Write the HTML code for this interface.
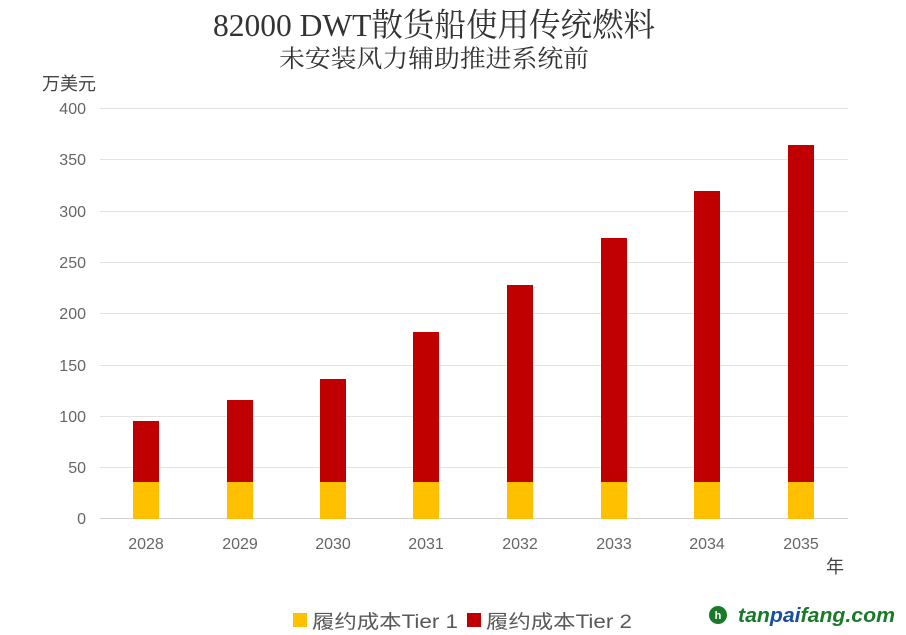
<!DOCTYPE html>
<html><head><meta charset="utf-8"><style>
body{margin:0;background:#fff;}
svg{display:block}
</style></head><body>
<svg width="906" height="635" xmlns="http://www.w3.org/2000/svg">
<rect width="906" height="635" fill="#fff"/>
<g transform="translate(434,36) scale(1,1.15)">
<text x="0" y="0" text-anchor="middle" font-family="'Liberation Serif','Noto Serif CJK SC',serif" font-size="28" fill="#333" textLength="442" lengthAdjust="spacingAndGlyphs">82000 DWT散货船使用传统燃料</text>
</g>
<g transform="translate(434,67) scale(1,1.12)">
<text x="0" y="0" text-anchor="middle" font-family="'Liberation Serif','Noto Serif CJK SC',serif" font-size="22" fill="#333" textLength="310" lengthAdjust="spacingAndGlyphs">未安装风力辅助推进系统前</text>
</g>
<text x="42" y="90" font-family="'Liberation Sans','Noto Sans CJK SC',sans-serif" font-size="18" fill="#444">万美元</text>
<g stroke="#e3e3e3" stroke-width="1">
<line x1="100" x2="848" y1="108.5" y2="108.5"/>
<line x1="100" x2="848" y1="159.5" y2="159.5"/>
<line x1="100" x2="848" y1="211.5" y2="211.5"/>
<line x1="100" x2="848" y1="262.5" y2="262.5"/>
<line x1="100" x2="848" y1="313.5" y2="313.5"/>
<line x1="100" x2="848" y1="365.5" y2="365.5"/>
<line x1="100" x2="848" y1="416.5" y2="416.5"/>
<line x1="100" x2="848" y1="467.5" y2="467.5"/>
</g>
<line x1="100" x2="848" y1="518.5" y2="518.5" stroke="#d0d0d0"/>
<g font-family="'Liberation Sans',sans-serif" font-size="16" fill="#666" text-anchor="end">
<text x="86" y="114">400</text><text x="86" y="165">350</text><text x="86" y="217">300</text><text x="86" y="268">250</text><text x="86" y="319">200</text><text x="86" y="371">150</text><text x="86" y="422">100</text><text x="86" y="473">50</text><text x="86" y="524">0</text>
</g>
<g>
<rect x="133" y="421" width="26" height="61" fill="#c00000"/><rect x="133" y="482" width="26" height="37" fill="#ffc000"/>
<rect x="227" y="400" width="26" height="82" fill="#c00000"/><rect x="227" y="482" width="26" height="37" fill="#ffc000"/>
<rect x="320" y="379" width="26" height="103" fill="#c00000"/><rect x="320" y="482" width="26" height="37" fill="#ffc000"/>
<rect x="413" y="332" width="26" height="150" fill="#c00000"/><rect x="413" y="482" width="26" height="37" fill="#ffc000"/>
<rect x="507" y="285" width="26" height="197" fill="#c00000"/><rect x="507" y="482" width="26" height="37" fill="#ffc000"/>
<rect x="601" y="238" width="26" height="244" fill="#c00000"/><rect x="601" y="482" width="26" height="37" fill="#ffc000"/>
<rect x="694" y="191" width="26" height="291" fill="#c00000"/><rect x="694" y="482" width="26" height="37" fill="#ffc000"/>
<rect x="788" y="145" width="26" height="337" fill="#c00000"/><rect x="788" y="482" width="26" height="37" fill="#ffc000"/>
</g>
<g font-family="'Liberation Sans',sans-serif" font-size="16" fill="#666" text-anchor="middle">
<text x="146" y="549">2028</text><text x="240" y="549">2029</text><text x="333" y="549">2030</text><text x="426" y="549">2031</text><text x="520" y="549">2032</text><text x="614" y="549">2033</text><text x="707" y="549">2034</text><text x="801" y="549">2035</text>
</g>
<text x="826" y="573" font-family="'Liberation Sans','Noto Sans CJK SC',sans-serif" font-size="18" fill="#444">年</text>
<rect x="293" y="613" width="14" height="14" fill="#ffc000"/>
<text x="312" y="628" font-family="'Liberation Sans','Noto Sans CJK SC',sans-serif" font-size="19" fill="#595959" textLength="146" lengthAdjust="spacingAndGlyphs">履约成本Tier 1</text>
<rect x="467" y="613" width="14" height="14" fill="#c00000"/>
<text x="486" y="628" font-family="'Liberation Sans','Noto Sans CJK SC',sans-serif" font-size="19" fill="#595959" textLength="146" lengthAdjust="spacingAndGlyphs">履约成本Tier 2</text>
<circle cx="718" cy="615" r="9" fill="#1a7a2a"/>
<text x="718" y="619" text-anchor="middle" font-family="'Liberation Sans',sans-serif" font-size="11" font-weight="bold" fill="#fff">h</text>
<text x="738" y="622" font-family="'Liberation Sans',sans-serif" font-size="20" font-weight="bold" font-style="italic" fill="#1a7a2a" textLength="157" lengthAdjust="spacingAndGlyphs">tan<tspan fill="#1a4fa0">pai</tspan>fang.com</text>
</svg>
</body></html>
